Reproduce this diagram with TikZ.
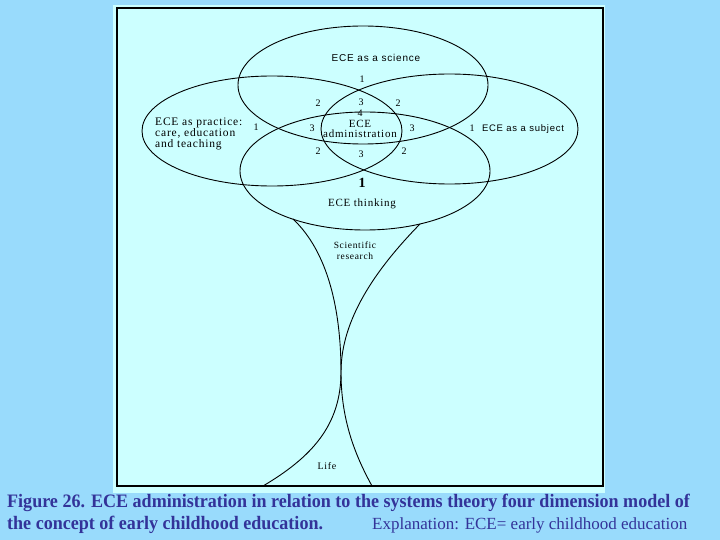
\documentclass[tikz,border=0pt]{standalone}
\usepackage{fontspec}
\setmainfont{Liberation Serif}
\newfontfamily\dfont[LetterSpace=7]{Liberation Serif}
\newfontfamily\dsans[LetterSpace=8]{Liberation Sans}
\newfontfamily\capfont[FakeStretch=0.95]{Liberation Serif}
\definecolor{outerbg}{RGB}{153,219,252}
\definecolor{panelc}{RGB}{204,255,255}
\definecolor{capblue}{RGB}{51,51,153}
\tikzset{
  lbl/.style={inner sep=0pt, anchor=base, font=\dfont\fontsize{11}{12}\selectfont},
  num/.style={inner sep=0pt, anchor=base, font=\dfont\fontsize{10}{11}\selectfont},
  ring/.style={line width=0.9pt},
  captext/.style={inner sep=0pt, anchor=base west, text=capblue}
}
\begin{document}
\begin{tikzpicture}[x=1pt,y=-1pt]
\useasboundingbox (0,0) rectangle (720,540);
\fill[outerbg] (0,0) rectangle (720,540);
\fill[panelc] (113,5) rectangle (605,493);
\draw[line width=1.3pt] (117,8) rectangle (603,486);

% four ellipses
\draw[ring] (363,85) ellipse [x radius=125pt, y radius=59pt];
\draw[ring] (365,171) ellipse [x radius=125pt, y radius=59pt];
\draw[ring] (272,131) ellipse [x radius=130pt, y radius=55pt];
\draw[ring] (449.5,129) ellipse [x radius=128.5pt, y radius=55pt];

% hourglass
\coordinate (lt) at (293,219);
\coordinate (rt) at (420,224);
\coordinate (waist) at (341,372);
\coordinate (lb) at (372,486);
\coordinate (rb) at (263,486);
\draw[ring] (lt) .. controls (328,252) and (341,310) .. (waist)
            .. controls (341,420) and (355,455) .. (lb);
\draw[ring] (rt) .. controls (375,270) and (341,320) .. (waist)
            .. controls (341,425) and (312,457) .. (rb);

% labels
\node[font=\dsans\fontsize{10}{12}\selectfont, inner sep=0pt, anchor=base] (sci) at (376,62) {ECE as a science};
\node[num] (n1t) at (362,82.5) {1};
\node[num] (n2tl) at (318,106.5) {2};
\node[num] (n3t) at (361,105.5) {3};
\node[num] (n2tr) at (398,106.5) {2};
\node[num] (n4) at (360,117) {4};
\node[lbl] (adm1) at (360,127.5) {ECE};
\node[lbl] (adm2) at (360,138) {administration};
\node[num] (n1l) at (256,130.5) {1};
\node[num] (n3l) at (312,131.5) {3};
\node[num] (n3r) at (412,131.5) {3};
\node[num] (n1r) at (472,131.5) {1};
\node[font=\dsans\fontsize{9.5}{11}\selectfont, inner sep=0pt, anchor=base] (subj) at (523,132) {ECE as a subject};
\node[num] (n2bl) at (318,154.5) {2};
\node[num] (n3b) at (361,157.5) {3};
\node[num] (n2br) at (404,155) {2};
\node[inner sep=0pt, anchor=base, font=\dfont\bfseries\fontsize{14}{16}\selectfont] (n1b) at (362,187.5) {1};
\node[lbl] (think) at (362,207) {ECE thinking};
\node[inner sep=0pt, anchor=base west, align=left, font=\dfont\fontsize{11.5}{11}\selectfont] (prac) at (155,148) {ECE as practice:\\care, education\\and teaching};
\node[inner sep=0pt, anchor=base, align=center, font=\dfont\fontsize{9.5}{11}\selectfont] (res) at (355,259) {Scientific\\research};
\node[num] (life) at (327,469) {Life};

% caption
\node[captext, font=\capfont\bfseries\fontsize{19}{22}\selectfont] (cap1) at (7,507) {Figure 26. ECE administration in relation to the systems theory four dimension model of};
\node[captext, font=\capfont\bfseries\fontsize{19}{22}\selectfont] (cap2) at (7,529) {the concept of early childhood education.};
\node[captext, font=\fontsize{17}{20}\selectfont] (cap3) at (372,529) {Explanation: ECE= early childhood education};
\end{tikzpicture}
\end{document}
